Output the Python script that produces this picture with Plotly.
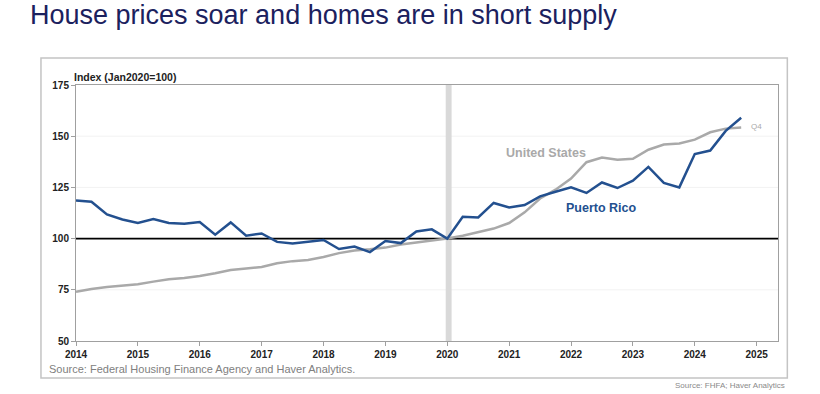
import plotly.graph_objects as go

# ---- data (quarterly, 2014Q1 .. 2024Q4), index Jan2020 = 100 ----
years = list(range(2014, 2025))
quarters = [1, 2, 3, 4]
periods = [y + (q - 1) / 4 for y in years for q in quarters]

puerto_rico = [
    118.6, 118.0, 111.8, 109.3,
    107.6, 109.5, 107.6, 107.2,
    108.1, 101.9, 107.9, 101.4,
    102.5, 98.4, 97.6, 98.6,
    99.3, 94.9, 96.1, 93.4,
    98.8, 97.8, 103.5, 104.5,
    100.0, 110.7, 110.3, 117.4,
    115.2, 116.4, 120.6, 122.9,
    125.0, 122.3, 127.4, 124.7,
    128.3, 135.0, 127.2, 125.0,
    141.3, 143.0, 152.6, 159.0,
]

united_states = [
    74.0, 75.4, 76.4, 76.9,
    77.7, 79.0, 80.2, 80.8,
    81.7, 83.1, 84.7, 85.4,
    86.1, 88.0, 89.0, 89.6,
    91.0, 92.9, 94.2, 94.8,
    95.6, 97.1, 98.1, 98.9,
    100.0, 101.4, 103.0, 104.9,
    107.6, 112.8, 119.6, 123.9,
    129.3, 137.3, 139.6, 138.5,
    139.0, 143.4, 145.9, 146.4,
    148.3, 151.9, 153.7, 154.2,
]

x_ticks = list(range(2014, 2026))
x_ticktext = [str(v) for v in x_ticks]
y_ticks = [50, 75, 100, 125, 150, 175]
grid_levels = [75, 125, 150]

title_text = "House prices soar and homes are in short supply"
axis_label = "Index (Jan2020=100)"
source_inner = "Source: Federal Housing Finance Agency and Haver Analytics."
source_outer = "Source: FHFA; Haver Analytics"

PR_COLOR = "#23508f"
US_COLOR = "#a9a9a9"
FONT = "Liberation Sans, Arial, sans-serif"

fig = go.Figure()
fig.add_trace(go.Scatter(x=periods, y=united_states, mode="lines",
                         line=dict(color=US_COLOR, width=2.5), name="United States",
                         hoverinfo="x+y"))
fig.add_trace(go.Scatter(x=periods, y=puerto_rico, mode="lines",
                         line=dict(color=PR_COLOR, width=2.5), name="Puerto Rico",
                         hoverinfo="x+y"))

shapes = [
    # outer frame
    dict(type="rect", xref="paper", yref="paper", x0=-0.0499, x1=1.0133, y0=-0.1445, y1=1.1055,
         line=dict(color="#c4c4c4", width=1.5), fillcolor="rgba(0,0,0,0)", layer="below"),
]
for g in grid_levels:
    shapes.append(dict(type="line", xref="paper", yref="y", x0=0, x1=1, y0=g, y1=g,
                       line=dict(color="#f2f2f2", width=1), layer="below"))
shapes += [
    # 2020 band
    dict(type="rect", xref="x", yref="paper", x0=2019.975, x1=2020.07, y0=0, y1=1,
         fillcolor="#d9d9d9", line=dict(width=0), layer="below"),
    # 100 reference line
    dict(type="line", xref="paper", yref="y", x0=0, x1=1, y0=100, y1=100,
         line=dict(color="#000000", width=1.8), layer="below"),
]

annotations = [
    dict(text=axis_label, xref="paper", yref="paper", x=-0.006, y=1.031,
         xanchor="left", yanchor="middle", showarrow=False,
         font=dict(family=FONT, size=10.5, color="#222222", weight="bold")),
    dict(text="United States", xref="x", yref="y", x=2021.6, y=141.7,
         xanchor="center", yanchor="middle", showarrow=False,
         font=dict(family=FONT, size=12.5, color=US_COLOR, weight="bold")),
    dict(text="Puerto Rico", xref="x", yref="y", x=2022.5, y=115.0,
         xanchor="center", yanchor="middle", showarrow=False,
         font=dict(family=FONT, size=12.5, color=PR_COLOR, weight="bold")),
    dict(text="Q4", xref="x", yref="y", x=2024.99, y=154.6,
         xanchor="center", yanchor="middle", showarrow=False,
         font=dict(family=FONT, size=8, color="#aaaaaa")),
    dict(text=source_inner, xref="paper", yref="paper", x=-0.042, y=-0.11,
         xanchor="left", yanchor="middle", showarrow=False,
         font=dict(family=FONT, size=11, color="#808080")),
    dict(text=source_outer, xref="paper", yref="paper", x=1.0133, y=-0.175,
         xanchor="right", yanchor="middle", showarrow=False,
         font=dict(family=FONT, size=8, color="#8a8a8a")),
]

fig.update_layout(
    width=820, height=394,
    margin=dict(l=76, r=42, t=85, b=53),
    paper_bgcolor="white", plot_bgcolor="white",
    showlegend=False,
    title=dict(text=title_text, x=0.0366, xanchor="left", xref="container",
               y=0.962, yanchor="middle", yref="container",
               font=dict(family=FONT, size=27, color="#1b215e")),
    shapes=shapes, annotations=annotations,
    xaxis=dict(range=[2014, 2025.345], tickvals=x_ticks, ticktext=x_ticktext,
               showgrid=False, zeroline=False,
               showline=True, linecolor="#a0a0a0", linewidth=1, mirror=True,
               ticks="outside", ticklen=4, tickcolor="#a0a0a0",
               tickfont=dict(family=FONT, size=10, color="#222222", weight="bold")),
    yaxis=dict(range=[50, 175], tickvals=y_ticks,
               showgrid=False, zeroline=False,
               showline=True, linecolor="#a0a0a0", linewidth=1, mirror=True,
               ticks="outside", ticklen=4, tickcolor="#a0a0a0",
               tickfont=dict(family=FONT, size=10, color="#222222", weight="bold")),
)

fig.write_html("out.html", config={"displayModeBar": False},
               post_script="document.body.style.margin='0';document.body.style.overflow='hidden';")
